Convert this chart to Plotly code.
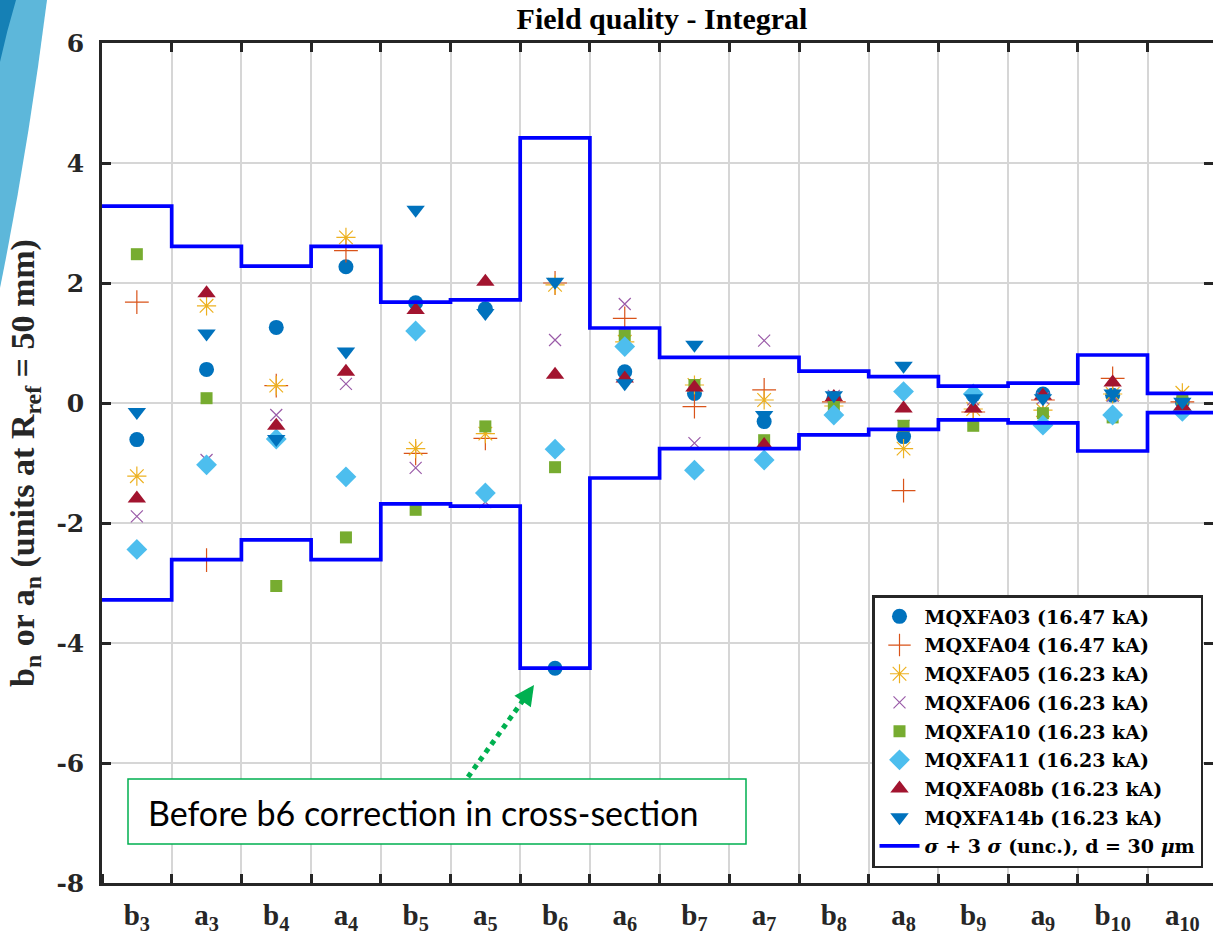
import plotly.graph_objects as go

# ---------------- data ----------------
categories = ["b<sub>3</sub>", "a<sub>3</sub>", "b<sub>4</sub>", "a<sub>4</sub>",
              "b<sub>5</sub>", "a<sub>5</sub>", "b<sub>6</sub>", "a<sub>6</sub>",
              "b<sub>7</sub>", "a<sub>7</sub>", "b<sub>8</sub>", "a<sub>8</sub>",
              "b<sub>9</sub>", "a<sub>9</sub>", "b<sub>10</sub>", "a<sub>10</sub>"]

mqxfa03 = [-0.61, 0.56, 1.26, 2.27, 1.67, 1.57, -4.42, 0.52, 0.16, -0.31, 0.08, -0.56, 0.13, 0.15, 0.13, 0.02]
mqxfa04 = [1.68, -2.62, 0.29, 2.54, -0.84, -0.59, 2.00, 1.41, -0.06, 0.22, 0.02, -1.46, -0.15, 0.05, 0.41, 0.02]
mqxfa05 = [-1.22, 1.62, 0.29, 2.76, -0.76, -0.51, 1.97, 1.02, 0.30, 0.05, -0.05, -0.76, -0.10, -0.12, 0.15, 0.17]
mqxfa06 = [-1.89, -0.95, -0.20, 0.32, -1.08, -1.65, 1.05, 1.65, -0.67, 1.04, 0.12, -0.38, 0.06, 0.08, 0.12, -0.05]
mqxfa10 = [2.48, 0.08, -3.05, -2.24, -1.78, -0.39, -1.07, 1.13, 0.30, -0.62, -0.03, -0.38, -0.38, -0.17, -0.24, 0.07]
mqxfa11 = [-2.44, -1.03, -0.60, -1.23, 1.20, -1.50, -0.77, 0.94, -1.12, -0.95, -0.20, 0.19, 0.15, -0.37, -0.20, -0.14]
mqxfa08b = [-1.59, 1.83, -0.38, 0.52, 1.55, 2.02, 0.47, 0.41, 0.26, -0.70, 0.10, -0.09, -0.09, 0.12, 0.34, -0.06]
mqxfa14b = [-0.15, 1.16, -0.60, 0.86, 3.22, 1.50, 2.02, 0.33, 0.97, -0.20, 0.13, 0.62, 0.08, 0.08, 0.16, 0.02]

sigma_limit = [3.28, 2.61, 2.28, 2.61, 1.68, 1.72, 4.42, 1.25, 0.76, 0.76, 0.53, 0.44, 0.28, 0.33, 0.80, 0.16]

series_names = ["MQXFA03 (16.47 kA)", "MQXFA04 (16.47 kA)", "MQXFA05 (16.23 kA)",
                "MQXFA06 (16.23 kA)", "MQXFA10 (16.23 kA)", "MQXFA11 (16.23 kA)",
                "MQXFA08b (16.23 kA)", "MQXFA14b (16.23 kA)"]
limit_name = "<i>σ</i> + 3 <i>σ</i> (unc.), d = 30 <i>μ</i>m"

y_ticks = [-8, -6, -4, -2, 0, 2, 4, 6]
y_tick_labels = ["-8", "-6", "-4", "-2", "0", "2", "4", "6"]

title_text = "Field quality - Integral"
y_title = "b<sub>n</sub> or a<sub>n</sub> (units at R<sub>ref</sub> = 50 mm)"
note_text = "Before b6 correction in cross-section"

# ---------------- styling ----------------
W, H = 1213, 942
L, R, T, B = 102, 0, 43, 59
PW, PH = W - L - R, H - T - B

def px(xp):
    return (xp - L) / PW

def py(yp):
    return (H - B - yp) / PH

serif = "Liberation Serif"
wide_serif = "DejaVu Serif"
axis_col = "#262626"
grid_col = "#d6d6d6"

styles = [
    dict(symbol="circle", color="#0072BD", size=15, open=False),
    dict(symbol="cross-thin", color="#D95319", size=17, open=True),
    dict(symbol="asterisk", color="#EDB120", size=16, open=True),
    dict(symbol="x-thin", color="#9A5BA8", size=12, open=True),
    dict(symbol="square", color="#77AC30", size=12, open=False),
    dict(symbol="diamond", color="#4DBEEE", size=16, open=False),
    dict(symbol="triangle-up", color="#A2142F", size=16, open=False),
    dict(symbol="triangle-down", color="#0072BD", size=16, open=False),
]
all_series = [mqxfa03, mqxfa04, mqxfa05, mqxfa06, mqxfa10, mqxfa11, mqxfa08b, mqxfa14b]

pos = list(range(1, len(categories) + 1))
bounds = [p - 0.5 for p in pos] + [pos[-1] + 0.5]

fig = go.Figure()

for name, vals, st in zip(series_names, all_series, styles):
    if st["open"]:
        marker = dict(symbol=st["symbol"], size=st["size"], color=st["color"],
                      line=dict(color=st["color"], width=1.2))
    else:
        marker = dict(symbol=st["symbol"], size=st["size"], color=st["color"],
                      line=dict(width=0))
    fig.add_trace(go.Scatter(x=pos, y=vals, mode="markers", name=name,
                             marker=marker, legendgroup=name))

upper = sigma_limit + [sigma_limit[-1]]
lower = [-v for v in upper]
fig.add_trace(go.Scatter(x=bounds, y=upper, mode="lines", line_shape="hv",
                         line=dict(color="#0000FF", width=3.7), name=limit_name,
                         legendgroup="lim", yaxis="y2"))
fig.add_trace(go.Scatter(x=bounds, y=lower, mode="lines", line_shape="hv",
                         line=dict(color="#0000FF", width=3.7), name=limit_name,
                         legendgroup="lim", showlegend=False, xaxis="x2"))

x_range = [0.5, 0.5 + PW / 69.7]

fig.update_layout(
    width=W, height=H,
    margin=dict(l=L, r=R, t=T, b=B, autoexpand=False),
    paper_bgcolor="white", plot_bgcolor="white",
    showlegend=True,
    title=dict(text=title_text, x=px(662), xref="paper", xanchor="center",
               y=1 - 18 / H, yanchor="middle", yref="container",
               font=dict(family=serif, size=30, color="black", weight="bold")),
    xaxis=dict(range=x_range, tickmode="array", tickvals=pos, ticktext=categories,
               ticks="", showgrid=False, zeroline=False,
               showline=True, linecolor=axis_col, linewidth=2.5,
               ticklabelstandoff=4,
               tickfont=dict(family=serif, size=29, color=axis_col, weight="bold"),
               minor=dict(tickmode="array", tickvals=bounds, ticks="inside",
                          ticklen=9, tickwidth=2.5, tickcolor=axis_col,
                          showgrid=True, gridcolor=grid_col, gridwidth=2)),
    xaxis2=dict(overlaying="x", matches="x", side="top", anchor="y",
                tickmode="array", tickvals=bounds, showticklabels=False,
                ticks="inside", ticklen=9, tickwidth=2.5, tickcolor=axis_col,
                showline=True, linecolor=axis_col, linewidth=2.5,
                showgrid=False, zeroline=False),
    yaxis=dict(range=[-8, 6], tickmode="array", tickvals=y_ticks, ticktext=y_tick_labels,
               ticks="inside", ticklen=9, tickwidth=2.5, tickcolor=axis_col,
               showgrid=True, gridcolor=grid_col, gridwidth=2, zeroline=False,
               showline=True, linecolor=axis_col, linewidth=2.5,
               ticklabelstandoff=10,
               tickfont=dict(family=wide_serif, size=25, color=axis_col, weight="bold"),
               title=dict(text=y_title, standoff=12,
                          font=dict(family=serif, size=34, color=axis_col, weight="bold"))),
    yaxis2=dict(overlaying="y", matches="y", side="right", anchor="x",
                tickmode="array", tickvals=y_ticks, showticklabels=False,
                ticks="inside", ticklen=9, tickwidth=2.5, tickcolor=axis_col,
                showline=False, showgrid=False, zeroline=False),
    legend=dict(x=px(1203), xanchor="right", y=py(868), yanchor="bottom",
                bgcolor="white", bordercolor=axis_col, borderwidth=2.5,
                traceorder="grouped", tracegroupgap=1, itemwidth=40,
                font=dict(family=wide_serif, size=19, color="black", weight="bold")),
)

# slide decoration (top-left swoosh)
fig.add_shape(type="path", xref="paper", yref="paper", layer="above",
              path=f"M {px(0)},{py(0)} L {px(47)},{py(0)} Q {px(28)},{py(150)} {px(0)},{py(288)} Z",
              fillcolor="#5DB7DA", line=dict(width=0))
fig.add_shape(type="path", xref="paper", yref="paper", layer="above",
              path=f"M {px(0)},{py(0)} L {px(16)},{py(0)} Q {px(7)},{py(30)} {px(0)},{py(62)} Z",
              fillcolor="#1580B5", line=dict(width=0))

# annotation box
fig.add_shape(type="rect", xref="paper", yref="paper", layer="above",
              x0=px(128), x1=px(746), y0=py(844), y1=py(779),
              fillcolor="white", line=dict(color="#00B050", width=1.5))
fig.add_annotation(xref="paper", yref="paper", x=px(146), y=py(812),
                   xanchor="left", yanchor="middle", showarrow=False,
                   text=note_text, font=dict(family="Lato", size=34, color="black"))
# dotted arrow
fig.add_shape(type="line", xref="paper", yref="paper", layer="above",
              x0=px(468), y0=py(777), x1=px(524), y1=py(699),
              line=dict(color="#00B050", width=5, dash="dot"))
fig.add_annotation(xref="paper", yref="paper", x=px(534), y=py(685),
                   ax=-9, ay=13, axref="pixel", ayref="pixel",
                   showarrow=True, arrowhead=2, arrowsize=0.8, arrowwidth=5,
                   arrowcolor="#00B050", text="")

fig.write_html("out.html", config={"displayModeBar": False},
               post_script="document.body.style.margin='0px';")
